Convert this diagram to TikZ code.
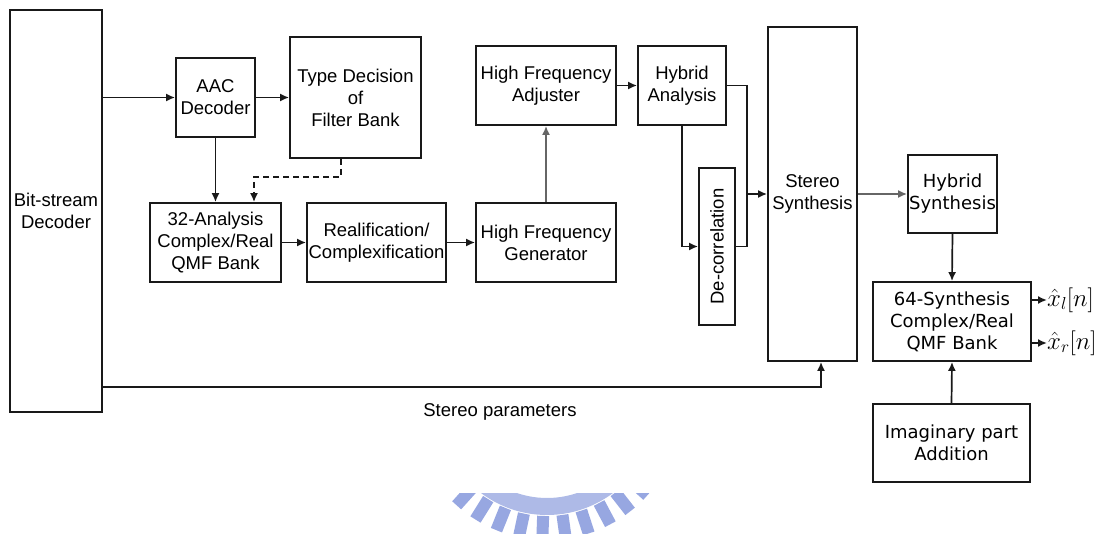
\documentclass[tikz,border=0pt]{standalone}
\usepackage{fontspec}
\setmainfont{Liberation Sans}
\newfontfamily\verd{DejaVu Sans}
\usetikzlibrary{arrows.meta,calc}

\definecolor{logoblue}{RGB}{140,158,222}

\tikzset{
  blk/.style={draw=black!90, line width=1.8pt, inner sep=0pt, align=center,
    font=\fontsize{18.5}{22}\selectfont},
  vblk/.style={blk, font=\verd\fontsize{18}{22}\selectfont},
  conn/.style={line width=1.7pt, draw=black!90, -{Latex[length=9pt,width=8pt]}},
  link/.style={line width=1.7pt, draw=black!90},
  soft/.style={conn, draw=black!60},
  lbl/.style={inner sep=0pt, font=\fontsize{18.5}{22}\selectfont},
  mlbl/.style={inner sep=0pt, font=\fontsize{23}{26}\selectfont}
}

\begin{document}
\begin{tikzpicture}[x=1pt, y=-1pt]
\useasboundingbox[fill=white] (0,0) rectangle (1100,534);

% faint logo ring along the bottom edge
\begin{scope}
  \clip (400,493) rectangle (700,534);
  \fill[logoblue, even odd rule, opacity=0.7] (547,405) circle (110) (547,405) circle (93);
  \foreach \a in {42,52,...,142}
    \draw[draw=logoblue, line width=12pt, opacity=0.9]
      (\a:111) ++(547,405) -- ++(\a:24);
\end{scope}

% processing blocks
\node[blk, minimum width=92pt,  minimum height=402pt] (bsd)  at (56,211)     {Bit-stream\\Decoder};
\node[blk, minimum width=79pt,  minimum height=79pt]  (aac)  at (215.5,97.5) {AAC\\Decoder};
\node[blk, minimum width=131pt, minimum height=121pt] (tdf)  at (355.5,97.5) {Type Decision\\of\\Filter Bank};
\node[blk, minimum width=131pt, minimum height=79pt]  (qmfa) at (215.5,242.5){32-Analysis\\Complex/Real\\QMF Bank};
\node[blk, minimum width=139pt, minimum height=79pt]  (real) at (376.5,242.5){Realification/\\Complexification};
\node[blk, minimum width=140pt, minimum height=79pt]  (hfg)  at (546,242.5)  {High Frequency\\Generator};
\node[blk, minimum width=140pt, minimum height=79pt]  (hfa)  at (546,85.5)   {High Frequency\\Adjuster};
\node[blk, minimum width=88pt,  minimum height=79pt]  (hyba) at (682,85.5)   {Hybrid\\Analysis};
\node[blk, minimum width=36pt,  minimum height=157pt] (dec)  at (717,246.5)  {};
\node[lbl, rotate=90] at (dec.center) {De-correlation};
\node[blk, minimum width=89pt,  minimum height=334pt] (ss)   at (812.5,194)  {Stereo\\Synthesis};
\node[vblk, minimum width=89pt, minimum height=78pt]  (hybs) at (952.5,194)  {Hybrid\\Synthesis};
\node[vblk, minimum width=158pt,minimum height=79pt]  (qmfs) at (952,321.5)  {64-Synthesis\\Complex/Real\\QMF Bank};
\node[vblk, minimum width=157pt,minimum height=78pt]  (imag) at (951.5,443)  {Imaginary part\\Addition};

% outputs
\node[mlbl, anchor=west] (xl) at (1047,300) {$\hat{x}_{l}[n]$};
\node[mlbl, anchor=west] (xr) at (1047,343) {$\hat{x}_{r}[n]$};
\node[lbl] (sp) at (500,412) {Stereo parameters};

% helper points
\coordinate (d1) at (341,177);
\coordinate (m1) at (747,194);
\coordinate (pb) at (0,387);

% connectors
\draw[conn] (bsd.east |- aac.west) -- (aac.west);
\draw[conn] (aac.east) -- (tdf.west);
\draw[conn] (aac.south) -- (qmfa.north);
\draw[conn, dash pattern=on 6pt off 4pt] (tdf.south -| d1) -- (d1) -| ([xshift=38.5pt]qmfa.north);
\draw[conn] (qmfa.east) -- (real.west);
\draw[conn] (real.east) -- (hfg.west);
\draw[soft, line width=2.2pt] (hfg.north) -- (hfa.south);
\draw[conn] (hfa.east) -- (hyba.west);
\draw[link] (hyba.east) -| (m1);
\draw[link] (dec.east) -| (m1);
\draw[conn] (m1) -- (ss.west);
\draw[conn] (hyba.south) |- (dec.west);
\draw[soft] (ss.east) -- (hybs.west);
\draw[conn] (hybs.south) -- (qmfs.north);
\draw[conn] (imag.north) -- (qmfs.south);
\draw[conn] (qmfs.east |- xl.west) -- (xl.west);
\draw[conn] (qmfs.east |- xr.west) -- (xr.west);
\draw[conn] (bsd.east |- pb) -| ([xshift=8.5pt]ss.south);
\end{tikzpicture}
\end{document}
